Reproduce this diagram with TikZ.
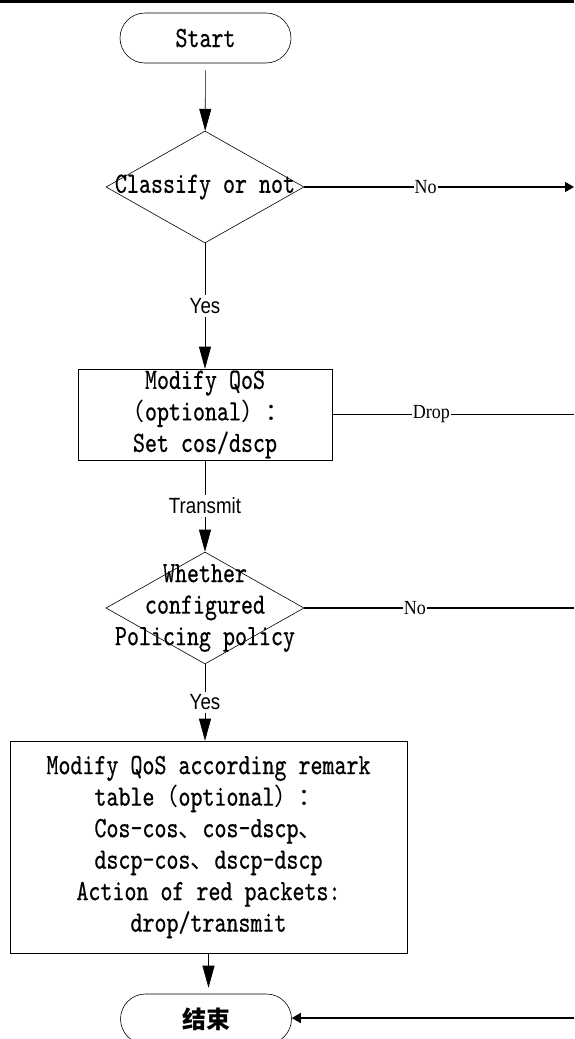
\documentclass[tikz,border=0pt]{standalone}
\usepackage{fontspec}
\usepackage{tikz}
\usetikzlibrary{arrows.meta, shapes.geometric, shapes.misc}
\newfontfamily\boxfont[FakeStretch=0.775, FakeBold=0.5]{lmmono10-regular.otf}
\newfontfamily\cjkfont{Noto Sans CJK SC}
\newfontfamily\yesfont[FakeStretch=0.85]{Liberation Sans}
\newfontfamily\nofont[FakeStretch=0.9]{Liberation Serif}
\newcommand{\boxtext}{\boxfont\fontsize{29.5}{31.5}\selectfont}
\newcommand{\cjk}[1]{{\cjkfont\fontsize{24}{31.5}\selectfont #1}}

\begin{document}
\begin{tikzpicture}[x=1pt, y=-1pt]
            \tikzset{terminal/.style = {shape=rounded rectangle, draw, line width=0.6pt, minimum width=171pt, minimum height=50pt, inner sep=0pt}}
            \tikzset{decision/.style = {shape=diamond, draw, line width=0.6pt, minimum width=198pt, minimum height=112pt, inner sep=0pt}}
            \tikzset{process/.style = {shape=rectangle, draw, line width=0.6pt, align=center, inner sep=0pt, font=\boxtext}}
            \tikzset{dtext/.style = {align=center, inner sep=0pt, font=\boxtext}}
            \tikzset{edge/.style = {-, line width=0.6pt, > = {Triangle[length=22pt, width=12pt]}}}
            \tikzset{side/.style = {-, line width=1.5pt, > = {Triangle[length=9pt, width=10pt]}}}
            \tikzset{yeslbl/.style = {fill=white, inner sep=3pt, font=\yesfont\fontsize{22}{24}\selectfont}}
            \tikzset{nolbl/.style = {fill=white, inner sep=1pt, font=\nofont\fontsize{20}{22}\selectfont}}
            \useasboundingbox (0,0) rectangle (574,1039);
            \draw[line width=3pt] (0,1.5) -- (574,1.5);
            \node[terminal, font=\boxtext] (start) at (205.5,38) {Start};
            \node[decision, label={[dtext]center:Classify or not}] (d1) at (205,187) {};
            \node[process, minimum width=254pt, minimum height=91pt] (box1) at (205,414.5)
              {Modify QoS\\\cjk{（}optional\cjk{）：}\\Set cos/dscp};
            \node[decision, label={[dtext]center:Whether\\configured\\Policing policy}] (d2) at (205,608) {};
            \node[process, minimum width=397pt, minimum height=212pt] (box2) at (208.5,847)
              {Modify QoS according remark\\table\cjk{（}optional\cjk{）：}\\Cos-cos\cjk{、}cos-dscp\cjk{、}\\dscp-cos\cjk{、}dscp-dscp\\Action of red packets:\\drop/transmit};
            \node[terminal, font=\cjkfont\bfseries\fontsize{24}{28}\selectfont] (end) at (206,1019) {结束};
            \coordinate (r1) at (574,187);
            \coordinate (r2) at (574,414.5);
            \coordinate (r3) at (574,608);
            \coordinate (r4) at (574,1018);
            \draw[edge,->, shorten <=7pt] (start) -- (d1);
            \draw[edge,->] (d1) -- node[yeslbl] {Yes} (box1);
            \draw[edge,->] (box1) -- node[yeslbl] {Transmit} (d2);
            \draw[edge,->] (d2) -- node[yeslbl] {Yes} (d2 |- box2.north);
            \draw[edge,->, shorten >=6pt] (box2) -- (box2 |- end.north);
            \draw[side,->] (d1) -- node[nolbl, pos=0.45] {No} (r1);
            \draw[side] (box1) -- node[nolbl, pos=0.41] {Drop} (r2);
            \draw[side] (d2) -- node[nolbl, pos=0.41] {No} (r3);
            \draw[side,->] (r4) -- (end.east |- r4);
          \end{tikzpicture}
\end{document}
